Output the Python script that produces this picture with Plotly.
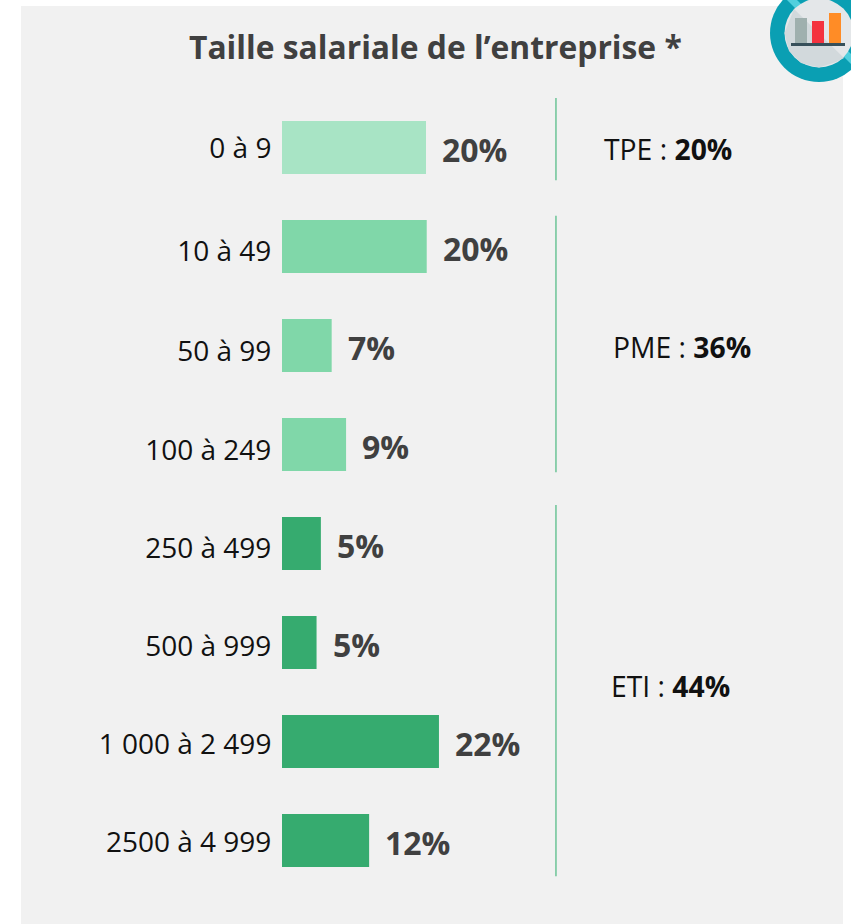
import plotly.graph_objects as go

categories = ["0 à 9", "10 à 49", "50 à 99", "100 à 249", "250 à 499", "500 à 999", "1 000 à 2 499", "2500 à 4 999"]
values = [20.0, 20.1, 6.9, 8.9, 5.4, 4.8, 21.8, 12.1]
labels = ["20%", "20%", "7%", "9%", "5%", "5%", "22%", "12%"]
colors = ["#A8E4C5", "#80D7A9", "#80D7A9", "#80D7A9", "#36AB6F", "#36AB6F", "#36AB6F", "#36AB6F"]
group_names = ["TPE", "PME", "ETI"]
group_values = ["20%", "36%", "44%"]
title = "Taille salariale de l’entreprise *"

W, H = 851, 924
L, R, T, B = 282, 8, 98, 34
PW, PH = W - L - R, H - T - B
ROW = PH / len(categories)
PX_PER_UNIT = 7.2
FONT = "Open Sans"
LINE_X = 38.05
GROUP_SPANS = [(-0.51, 0.33), (0.69, 3.28), (3.61, 7.36)]
GROUP_TEXT_POS = [(668, 149.5), (682, 346.5), (670, 685.5)]
TICK_NUDGE_PX = [0.5, 4.5, 5.5, 5.5, 4.5, 3.5, 2.5, 1.5]
positions = list(range(len(categories)))


def px(x):
    return (x - L) / PW


def py(y):
    return 1 - (y - T) / PH


def paper_rect(x0, y0, x1, y1, color, layer="above"):
    return dict(type="rect", xref="paper", yref="paper", x0=px(x0), x1=px(x1), y0=py(y0), y1=py(y1),
                fillcolor=color, line_width=0, layer=layer)


def paper_circle(cx, cy, r, color, layer="above"):
    return dict(type="circle", xref="paper", yref="paper", x0=px(cx - r), x1=px(cx + r), y0=py(cy + r), y1=py(cy - r),
                fillcolor=color, line_width=0, layer=layer)


def paper_path(points, color):
    d = "M " + " L ".join(f"{px(a):.5f},{py(b):.5f}" for a, b in points) + " Z"
    return dict(type="path", xref="paper", yref="paper", path=d, fillcolor=color, line_width=0, layer="above")


fig = go.Figure(go.Bar(
    y=positions, x=values, orientation="h", marker=dict(color=colors, line_width=0),
    customdata=categories, hoverinfo="skip", showlegend=False,
))

shapes = [paper_rect(21, 6, 843, 924, "#F1F1F1", layer="below")]
for y0, y1 in GROUP_SPANS:
    shapes.append(dict(type="line", xref="x", yref="y", x0=LINE_X, x1=LINE_X, y0=y0, y1=y1,
                       line=dict(color="#6CC497", width=1.5), layer="above"))

cx, cy = 819, 33
shapes += [
    paper_circle(cx, cy, 49, "#0A9FB3"),
    paper_path([(777, -10), (787, -10), (861, 64), (851, 64)], "#52CFDD"),
    paper_circle(cx, cy, 34.5, "#E4E7E9"),
    paper_path([(794, 9), (844, 58), (836, 62), (819, 67.5), (801, 63), (789, 51), (784.5, 33)], "#D2D9DC"),
    paper_rect(795, 18, 807, 43, "#9FB0AE"),
    paper_rect(812, 21, 824, 43, "#F4333F"),
    paper_rect(829, 13, 841, 43, "#FF8C26"),
    paper_rect(791, 43, 845, 46, "#37505A"),
]

annotations = [dict(text=f"<b>{t}</b>", x=v, y=p, xref="x", yref="y", xanchor="left", xshift=14, yshift=-1.5,
                    showarrow=False, font=dict(family=FONT, size=32, color="#404040"))
               for t, v, p in zip(labels, values, positions)]
for name, val, (gx, gy) in zip(group_names, group_values, GROUP_TEXT_POS):
    annotations.append(dict(text=f"{name} : <b>{val}</b>", x=px(gx), y=py(gy), xref="paper", yref="paper",
                            xanchor="center", yanchor="middle", showarrow=False,
                            font=dict(family=FONT, size=28.3, color="#111111")))
annotations.append(dict(text=f"<b>{title}</b>", x=px(435.5), y=py(47), xref="paper", yref="paper",
                        xanchor="center", yanchor="middle", showarrow=False,
                        font=dict(family=FONT, size=31.8, color="#404040")))

fig.update_layout(
    width=W, height=H, paper_bgcolor="white", plot_bgcolor="rgba(0,0,0,0)",
    margin=dict(l=L, r=R, t=T, b=B, autoexpand=False),
    bargap=0.465, shapes=shapes, annotations=annotations,
    xaxis=dict(range=[0, PW / PX_PER_UNIT], visible=False, fixedrange=True),
    yaxis=dict(range=[len(categories) - 0.5, -0.5], showgrid=False, zeroline=False, showline=False,
               tickmode="array", tickvals=[p + n / ROW for p, n in zip(positions, TICK_NUDGE_PX)], ticktext=categories,
               ticks="outside", ticklen=4, tickcolor="rgba(0,0,0,0)",
               tickfont=dict(family=FONT, size=28, color="#111111"), fixedrange=True),
)
fig.write_html("out.html", config={"displayModeBar": False},
               post_script="document.body.style.margin='0';document.body.style.overflow='hidden';")
